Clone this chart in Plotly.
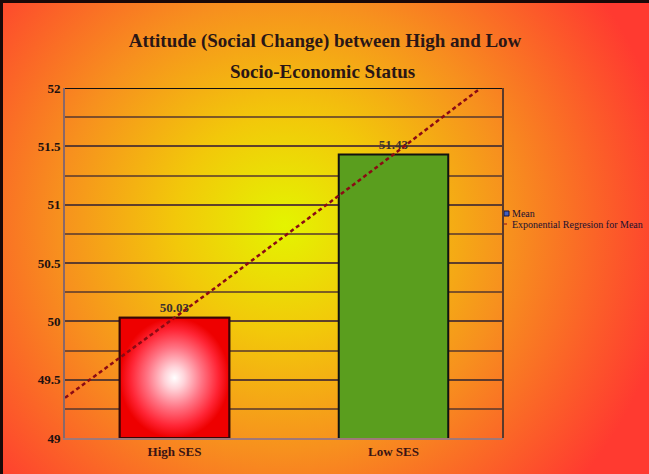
import base64
import numpy as np
import plotly.graph_objects as go

# ---- data -------------------------------------------------------------
CATEGORIES = ["High SES", "Low SES"]
MEAN_VALUES = [50.03, 51.43]
BAR_COLORS = ["#ff1010", "#5a9e1e"]
Y_TICKS = [49, 49.5, 50, 50.5, 51, 51.5, 52]
Y_RANGE = [49, 52]

TITLE_LINE1 = "Attitude (Social Change) between High and Low"
TITLE_LINE2 = "Socio-Economic Status"
LEGEND_LABELS = ["Mean", "Exponential Regresion for Mean"]

# ---- geometry ---------------------------------------------------------
W, H = 649, 474
ML, MR, MT, MB = 65, 146, 88, 36
PW, PH = W - ML - MR, H - MT - MB
BAR_WIDTH = 0.5
SERIF = "Liberation Serif, Times New Roman, serif"

x_pos = np.arange(1, len(CATEGORIES) + 1, dtype=float)
vals = np.array(MEAN_VALUES)


def px_x(px):
    return (px - ML) / PW


def px_y(py):
    return (MT + PH - py) / PH


# exponential regression y = a * exp(b x) fitted to the means
b, ln_a = np.polyfit(x_pos, np.log(vals), 1)
x_fit = np.linspace(x_pos[0] - 0.5, x_pos[-1] + 0.5, 41)
y_fit = np.exp(ln_a + b * x_fit)

fig = go.Figure()

# bars with value labels
fig.add_trace(go.Bar(
    x=x_pos, y=vals, width=BAR_WIDTH,
    marker=dict(color=BAR_COLORS, line=dict(color="#111111", width=2)),
    text=[f"<b>{v:.2f}</b>" for v in vals], textposition="outside",
    textfont=dict(family=SERIF, size=13, color="#3a3030"),
    cliponaxis=False, showlegend=False, hoverinfo="skip",
))

# radial white-to-red fill for the first bar
x0, x1 = x_pos[0] - BAR_WIDTH / 2, x_pos[0] + BAR_WIDTH / 2
fig.add_trace(go.Scatter(
    x=[x0, x1, x1, x0, x0],
    y=[Y_RANGE[0], Y_RANGE[0], vals[0], vals[0], Y_RANGE[0]],
    mode="lines", fill="toself",
    fillgradient=dict(type="radial",
                      colorscale=[[0, "#ffffff"], [0.18, "#ffd4da"],
                                  [0.5, "#ff7484"], [0.8, "#ff2535"], [1, "#ee0000"]]),
    line=dict(color="#3a0505", width=2),
    showlegend=False, hoverinfo="skip",
))

# regression trend line
fig.add_trace(go.Scatter(
    x=x_fit, y=y_fit, mode="lines",
    line=dict(color="#8b0a14", width=2.5, dash="4px,3px"),
    showlegend=False, hoverinfo="skip",
))

# ---- background: radial yellow -> red, dark frame top/left ---------------
svg = f'''<svg xmlns="http://www.w3.org/2000/svg" width="{W}" height="{H}" viewBox="0 0 {W} {H}">
<defs><radialGradient id="g" gradientUnits="userSpaceOnUse" cx="285" cy="225" r="390">
<stop offset="0" stop-color="#e4f400"/>
<stop offset="0.28" stop-color="#f2c80a"/>
<stop offset="0.58" stop-color="#f7901e"/>
<stop offset="1" stop-color="#ff3a30"/>
</radialGradient></defs>
<rect width="{W}" height="{H}" fill="url(#g)"/>
<rect x="0" y="0" width="{W}" height="3" fill="#1a0808"/>
<rect x="0" y="0" width="3" height="{H}" fill="#1a0808"/>
</svg>'''
bg_src = "data:image/svg+xml;base64," + base64.b64encode(svg.encode()).decode()

annotations = [
    dict(text=f"<b>{TITLE_LINE2}</b>", x=px_x(322), y=px_y(72), xref="paper", yref="paper",
         xanchor="center", yanchor="middle", showarrow=False,
         font=dict(family=SERIF, size=19, color="#2a1616")),
]
# legend entries
for i, label in enumerate(LEGEND_LABELS):
    annotations.append(dict(
        text=label, x=px_x(510), y=px_y(213 + 11 * i), xref="paper", yref="paper",
        xanchor="left", yanchor="middle", showarrow=False,
        font=dict(family=SERIF, size=10, color="#1a1030"),
    ))

shapes = [
    # legend key: bar
    dict(type="rect", xref="paper", yref="paper",
         x0=px_x(504), x1=px_x(509), y0=px_y(216), y1=px_y(211),
         fillcolor="#4060c0", line=dict(color="#101040", width=1)),
    # legend key: trend line
    dict(type="line", xref="paper", yref="paper",
         x0=px_x(504), x1=px_x(509), y0=px_y(224), y1=px_y(224),
         line=dict(color="#8b0a14", width=1, dash="dot")),
    # plot frame: top and right edges
    dict(type="line", xref="paper", yref="y", x0=0, x1=1, y0=Y_RANGE[1], y1=Y_RANGE[1],
         line=dict(color="#111111", width=2)),
    dict(type="line", xref="paper", yref="paper", x0=1, x1=1, y0=0, y1=1,
         line=dict(color="#5a3a2a", width=2)),
]

fig.update_layout(
    width=W, height=H,
    margin=dict(l=ML, r=MR, t=MT, b=MB, pad=0),
    paper_bgcolor="#f7901e", plot_bgcolor="rgba(0,0,0,0)",
    title=dict(text=f"<b>{TITLE_LINE1}</b>", x=325 / W, xref="container", xanchor="center",
               y=1 - 40 / H, yref="container", yanchor="middle",
               font=dict(family=SERIF, size=19, color="#2a1616")),
    images=[dict(source=bg_src, xref="paper", yref="paper",
                 x=-ML / PW, y=1 + MT / PH, sizex=W / PW, sizey=H / PH,
                 xanchor="left", yanchor="top", sizing="stretch", layer="below")],
    annotations=annotations,
    shapes=shapes,
    showlegend=False,
)

GRID = "rgba(85,55,45,0.75)"
fig.update_xaxes(
    range=[x_pos[0] - 0.5, x_pos[-1] + 0.5], tickvals=x_pos,
    ticktext=[f"<b>{c}</b>" for c in CATEGORIES],
    showgrid=False, zeroline=False, showline=True, linecolor="#a07878", linewidth=2,
    ticks="", tickfont=dict(family=SERIF, size=13, color="#3a1414"),
)
fig.update_yaxes(
    range=Y_RANGE, tickvals=Y_TICKS, ticktext=[f"<b>{t:g}</b>" for t in Y_TICKS],
    showgrid=True, gridcolor=GRID, gridwidth=1.5,
    minor=dict(dtick=0.25, showgrid=True, gridcolor=GRID, gridwidth=1.5),
    zeroline=False, showline=True, linecolor="#8a6868", linewidth=2,
    ticks="", tickfont=dict(family=SERIF, size=13, color="#201010"),
)

fig.write_html("out.html")
